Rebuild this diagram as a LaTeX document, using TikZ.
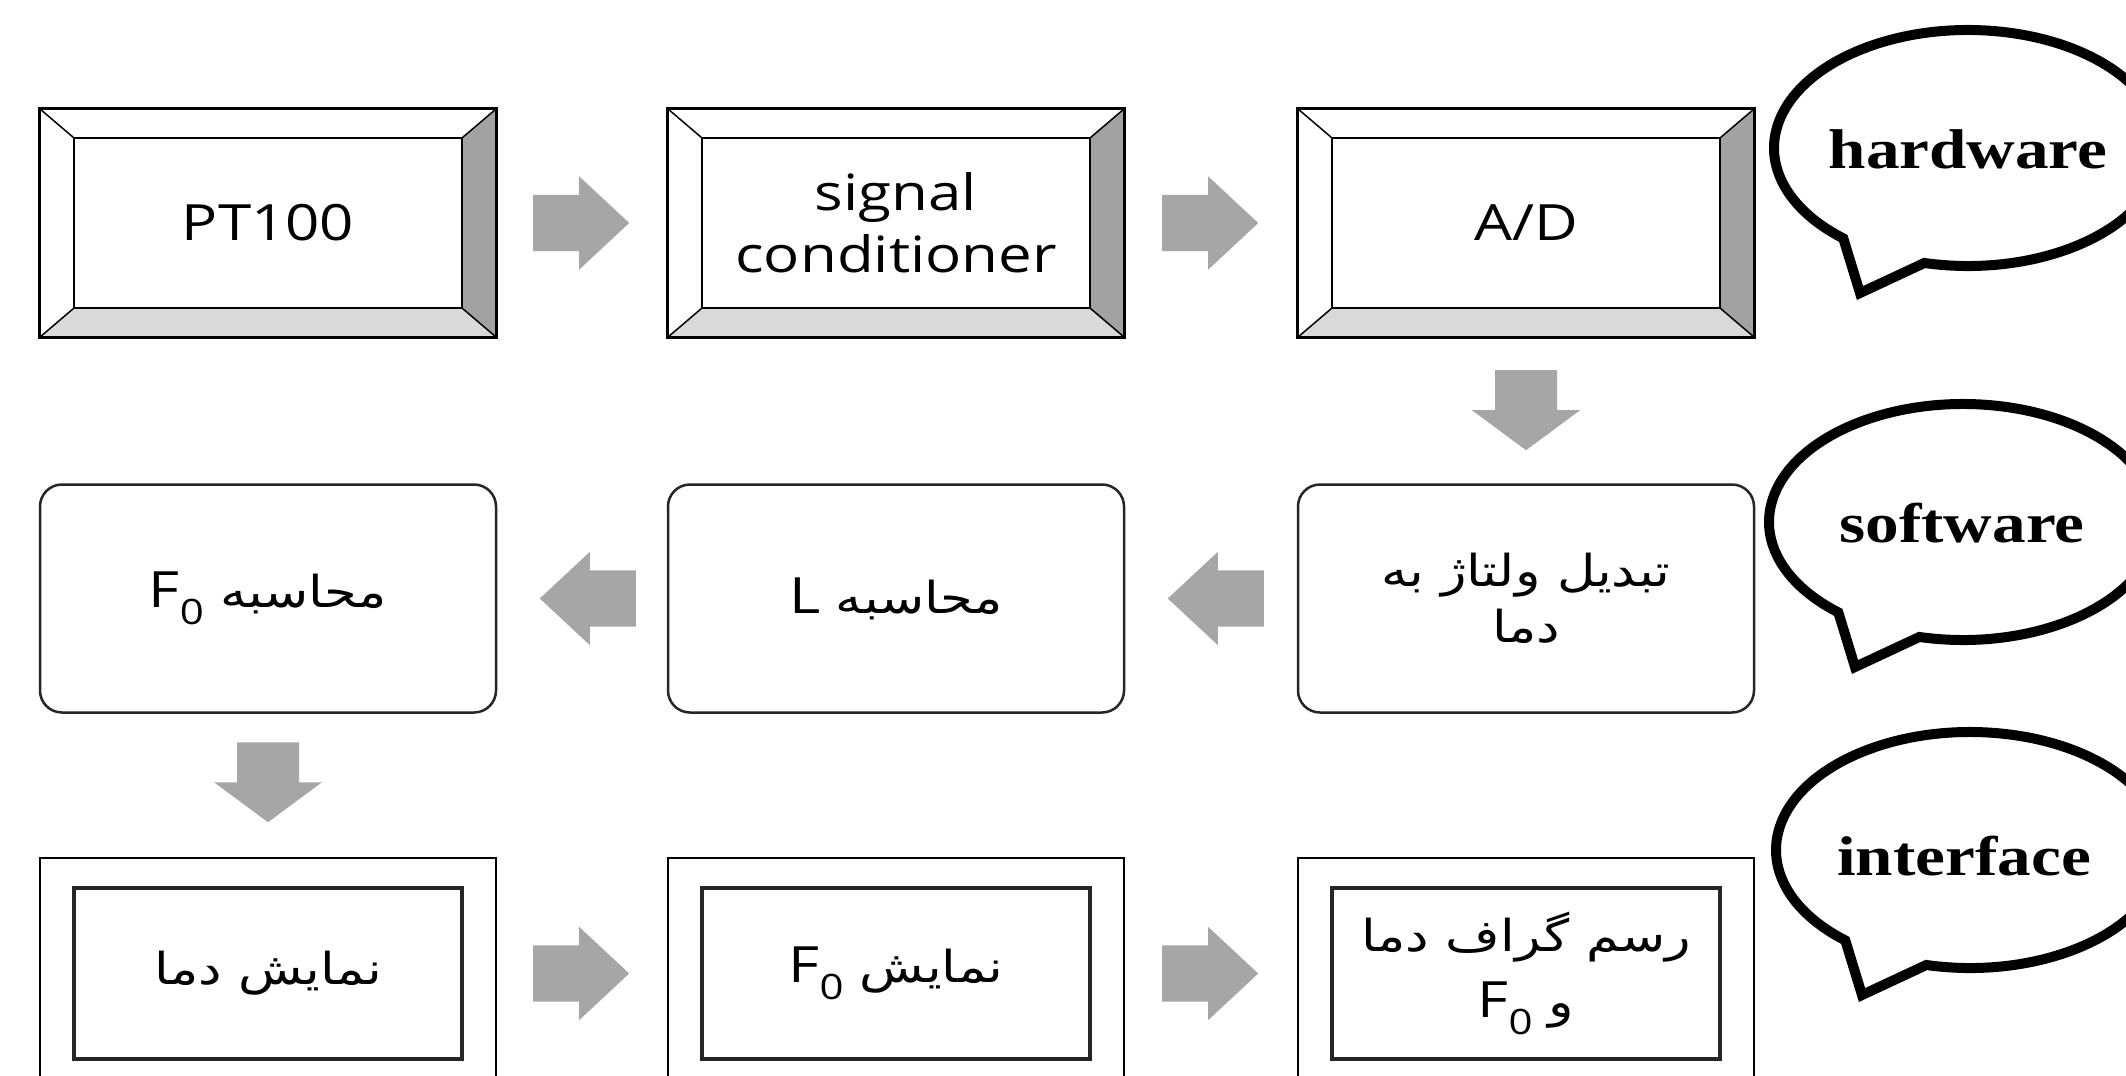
\documentclass[tikz,border=0pt]{standalone}
\usepackage{fontspec}
\usepackage{graphicx}
\usetikzlibrary{calc,shapes.arrows}
\setmainfont{Open Sans}
\newfontfamily\arabicfont[Script=Arabic]{DejaVu Sans}
\newfontfamily\bubfont{Liberation Serif}
\TeXXeTstate=1
\newcommand\sx[1]{\scalebox{1.2}[1]{#1}}
\newcommand\ar[1]{{\arabicfont\fontsize{44}{56}\selectfont\beginR #1\endR}}
\definecolor{arrowgray}{RGB}{166,166,166}
\definecolor{bevdark}{RGB}{162,162,162}
\definecolor{bevlight}{RGB}{217,217,217}
\begin{document}
\begin{tikzpicture}[x=1pt,y=-1pt,
  txt/.style={font=\fontsize{50}{62}\selectfont, align=center, inner sep=0pt},
  bevbox/.style={minimum width=456pt, minimum height=228pt, inner sep=0pt},
  softbox/.style={draw=black!85, line width=2.5pt, rounded corners=22pt, minimum width=456pt, minimum height=228pt, inner sep=0pt},
  dispbox/.style={draw=black, line width=2.5pt, minimum width=456pt, minimum height=231pt, inner sep=0pt},
  dispin/.style={draw=black!85, line width=3.5pt, minimum width=388pt, minimum height=171pt, inner sep=0pt},
  harrow/.style={single arrow, fill=arrowgray, draw=none, inner sep=28pt, minimum height=96pt, single arrow head extend=18.5pt, single arrow tip angle=86, anchor=tail},
  downarrow/.style={fill=arrowgray, draw=none},
  bubble/.style={line width=10pt, draw=black, fill=white, line join=miter},
  bubtxt/.style={font=\bubfont\bfseries\fontsize{56}{60}\selectfont, anchor=base, inner sep=0pt},
]
\useasboundingbox (0,0) rectangle (2126,1076);
\fill[white] (0,0) rectangle (2126,1076);
\clip (0,0) rectangle (2126,1076);

% ---------- row 1 : hardware ----------
\node[bevbox, txt] (pt) at (268,223) {\sx{PT100}};
\node[bevbox, txt] (sc) at (896,223) {\sx{signal}\\\sx{conditioner}};
\node[bevbox, txt] (ad) at (1526,223) {\sx{A/D}};
\foreach \n in {pt,sc,ad}{
  \coordinate (A) at (\n.north west);
  \coordinate (B) at (\n.north east);
  \coordinate (C) at (\n.south east);
  \coordinate (D) at (\n.south west);
  \coordinate (a) at ($(A)+(34,29)$);
  \coordinate (b) at ($(B)+(-34,29)$);
  \coordinate (c) at ($(C)+(-34,-29)$);
  \coordinate (d) at ($(D)+(34,-29)$);
  \fill[white] (A) -- (B) -- (b) -- (a) -- cycle;
  \fill[bevdark] (B) -- (C) -- (c) -- (b) -- cycle;
  \fill[bevlight] (D) -- (C) -- (c) -- (d) -- cycle;
  \fill[white] (A) -- (D) -- (d) -- (a) -- cycle;
  \draw[line width=1.5pt] (A) -- (a) (B) -- (b) (C) -- (c) (D) -- (d);
  \draw[line width=2.5pt] (a) rectangle (c);
  \draw[line width=3pt] (A) rectangle (C);
}

% ---------- row 2 : software ----------
\node[softbox, txt] (vt) at (1526,598.5) {\sx{\ar{تبدیل ولتاژ به}}\\[-6pt]\sx{\ar{دما}}};
\node[softbox, txt] (cl) at (896,598.5) {\sx{L \ar{محاسبه}}};
\node[softbox, txt] (cf) at (268,598.5) {\sx{F\textsubscript{0} \ar{محاسبه}}};

% ---------- row 3 : interface ----------
\node[dispbox] (d1) at (268,973.5) {};
\node[dispbox] (d2) at (896,973.5) {};
\node[dispbox] (d3) at (1526,973.5) {};
\node[dispin, txt] (t1) at (d1.center) {\sx{\ar{نمایش دما}}};
\node[dispin, txt] (t2) at (d2.center) {\sx{F\textsubscript{0} \ar{نمایش}}};
\node[dispin, txt] (t3) at (d3.center) {\sx{\ar{رسم گراف دما}}\\[4pt]\sx{F\textsubscript{0} \ar{و}}};

% ---------- block arrows ----------
\node[harrow] (r1) at ($(pt.east)!0.5!(sc.west)+(-49,0)$) {};
\node[harrow] (r2) at ($(sc.east)!0.5!(ad.west)+(-49,0)$) {};
\node[harrow, shape border rotate=180] (l1) at ($(vt.west)!0.5!(cl.east)+(53,0)$) {};
\node[harrow, shape border rotate=180] (l2) at ($(cl.west)!0.5!(cf.east)+(54,0)$) {};
\node[harrow] (r3) at ($(d1.east)!0.5!(d2.west)+(-49,0)$) {};
\node[harrow] (r4) at ($(d2.east)!0.5!(d3.west)+(-49,0)$) {};
\coordinate (m1) at ($(ad.south)!0.5!(vt.north)$);
\coordinate (m2) at ($(cf.south)!0.5!(d1.north)+(0,-3)$);
\foreach \m in {m1,m2}{
  \fill[downarrow] ($(\m)+(-31,-40)$) -- ($(\m)+(31,-40)$) -- ($(\m)+(31,0)$) -- ($(\m)+(54,0)$)
    -- ($(\m)+(0,40)$) -- ($(\m)+(-54,0)$) -- ($(\m)+(-31,0)$) -- cycle;
}

% ---------- speech bubbles ----------
\coordinate (hw) at (1968,148);
\coordinate (sw) at (1963,522);
\coordinate (if) at (1970,850);
\foreach \c in {hw,sw,if}{
  \draw[bubble] ($(\c)+(130:194 and 118)$) -- ($(\c)+(-108,145)$) -- ($(\c)+(103:194 and 118)$)
     arc[start angle=103, end angle=-230, x radius=194, y radius=118] -- cycle;
}
\node[bubtxt] (hwt) at (1968,168) {\sx{hardware}};
\node[bubtxt] (swt) at (1962,542) {\sx{software}};
\node[bubtxt] (ift) at (1964,875) {\sx{interface}};
\end{tikzpicture}
\end{document}
